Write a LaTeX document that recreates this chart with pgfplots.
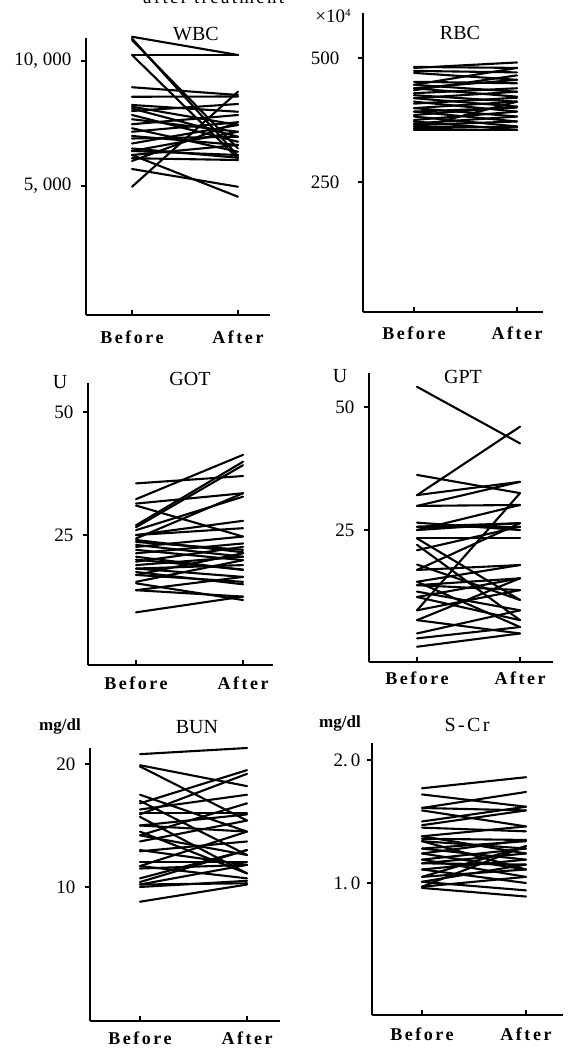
\documentclass[border=0pt]{standalone}
\usepackage{fontspec}
\setmainfont{Liberation Serif}
\usepackage{pgfplots}
\pgfplotsset{compat=1.18}
\newcommand\fs[1]{\fontsize{#1}{#1}\selectfont}
\newcommand\seg[2]{\addplot[black,line width=2.1pt,line cap=round] coordinates {(0,#1) (1,#2)};}
\pgfplotsset{
  panel/.style={
    scale only axis,
    anchor=south west,
    axis x line*=bottom,
    axis y line*=left,
    axis line style={-,line width=1.6pt,black},
    xtick={0,1},
    xticklabels={Before,After},
    xtick align=inside,
    ytick align=outside,
    major tick length=5pt,
    tick style={line width=1.4pt,black},
    scaled y ticks=false,
    clip=false,
    x tick label style={font={\fs{18}\bfseries\addfontfeature{LetterSpace=14}}},
    y tick label style={font={\fs{19}}},
  }
}
\begin{document}
\begin{tikzpicture}
% ---------------- WBC
\begin{axis}[panel, at={(86pt,-315pt)}, width=184pt, height=277pt,
  xmin=-0.434, xmax=1.302, ymin=-160, ymax=10920,
  ytick={5000,10000}, yticklabels={{5, 000},{10, 000}},
  x tick label style={yshift=-12pt}, y tick label style={xshift=-6pt}]
\seg{10970}{10240}
\seg{10900}{6200}
\seg{10840}{6500}
\seg{10240}{10240}
\seg{10240}{6100}
\seg{8950}{8640}
\seg{4970}{8773}
\seg{5680}{4970}
\seg{6240}{4570}
\seg{8570}{8580}
\seg{8240}{7970}
\seg{8170}{7440}
\seg{8000}{8280}
\seg{7840}{6770}
\seg{7670}{7170}
\seg{7470}{7840}
\seg{7310}{6370}
\seg{7170}{7550}
\seg{6900}{6970}
\seg{6700}{7440}
\seg{6500}{6130}
\seg{6400}{7170}
\seg{6240}{6640}
\seg{6110}{6040}
\seg{6000}{7550}
\seg{6400}{6240}
\seg{7000}{6640}
\seg{8100}{6970}
\end{axis}
% ---------------- RBC
\begin{axis}[panel, at={(363pt,-312pt)}, width=180pt, height=299pt,
  xmin=-0.495, xmax=1.252, ymin=-12, ymax=590.7,
  ytick={250,500}, yticklabels={250,500},
  y tick label style={xshift=-15pt},
  x tick label style={yshift=-11pt}]
\seg{482}{480}
\seg{480}{491}
\seg{474}{471}
\seg{470}{456}
\seg{452}{449}
\seg{446}{480}
\seg{446}{432}
\seg{439}{456}
\seg{439}{422}
\seg{435}{465}
\seg{429}{439}
\seg{425}{412}
\seg{419}{402}
\seg{419}{432}
\seg{412}{392}
\seg{408}{420}
\seg{399}{412}
\seg{399}{382}
\seg{392}{372}
\seg{392}{400}
\seg{385}{402}
\seg{382}{362}
\seg{375}{392}
\seg{372}{355}
\seg{368}{382}
\seg{365}{372}
\seg{362}{360}
\seg{358}{362}
\seg{358}{412}
\seg{355}{355}
\end{axis}
% ---------------- GOT
\begin{axis}[panel, at={(88pt,-665pt)}, width=185pt, height=282pt,
  xmin=-0.449, xmax=1.280, ymin=-1.4, ymax=55.9,
  ytick={25,50}, yticklabels={25,50},
  x tick label style={yshift=-8pt}, y tick label style={xshift=-6pt}]
\seg{35.5}{37.0}
\seg{32.3}{41.3}
\seg{31.4}{33.5}
\seg{31.0}{24.7}
\seg{27.0}{39.9}
\seg{26.6}{39.2}
\seg{26.0}{32.8}
\seg{25.0}{27.9}
\seg{25.0}{26.4}
\seg{24.3}{33.5}
\seg{23.6}{22.0}
\seg{22.6}{24.7}
\seg{22.0}{19.9}
\seg{21.3}{23.3}
\seg{20.6}{17.9}
\seg{19.6}{22.6}
\seg{18.9}{20.6}
\seg{18.2}{16.5}
\seg{18.2}{18.9}
\seg{16.9}{21.3}
\seg{16.9}{15.5}
\seg{15.5}{19.9}
\seg{15.2}{11.8}
\seg{13.8}{16.5}
\seg{13.8}{12.5}
\seg{9.3}{12.5}
\seg{17.5}{15.0}
\seg{20.0}{18.0}
\seg{23.0}{20.6}
\seg{24.0}{21.5}
\end{axis}
% ---------------- GPT
\begin{axis}[panel, at={(369pt,-662pt)}, width=184pt, height=289pt,
  xmin=-0.466, xmax=1.320, ymin=-1.8, ymax=56.9,
  ytick={25,50}, yticklabels={25,50},
  x tick label style={yshift=-6pt}, y tick label style={xshift=-6pt}]
\seg{54.1}{42.6}
\seg{32.1}{46.0}
\seg{36.2}{32.5}
\seg{32.1}{34.8}
\seg{29.9}{30.1}
\seg{29.9}{34.8}
\seg{25.7}{25.7}
\seg{25.7}{26.4}
\seg{25.0}{30.1}
\seg{25.0}{26.4}
\seg{23.3}{23.3}
\seg{23.3}{10.8}
\seg{20.9}{25.7}
\seg{16.9}{26.4}
\seg{16.9}{17.9}
\seg{14.5}{17.9}
\seg{14.5}{5.3}
\seg{13.8}{15.2}
\seg{13.8}{12.8}
\seg{12.5}{8.7}
\seg{11.4}{15.2}
\seg{11.4}{6.7}
\seg{8.7}{32.5}
\seg{8.7}{12.8}
\seg{6.7}{15.2}
\seg{6.7}{4.0}
\seg{4.0}{8.7}
\seg{3.0}{5.3}
\seg{1.3}{4.0}
\seg{22.0}{6.7}
\seg{18.0}{10.8}
\seg{26.5}{25.0}
\end{axis}
% ---------------- BUN
\begin{axis}[panel, at={(90pt,-1021pt)}, width=190pt, height=273pt,
  xmin=-0.467, xmax=1.308, ymin=-0.9, ymax=21.3,
  ytick={10,20}, yticklabels={10,20},
  x tick label style={yshift=-7pt}, y tick label style={xshift=-6pt}]
\seg{20.8}{21.3}
\seg{19.9}{18.2}
\seg{19.8}{15.4}
\seg{17.5}{14.5}
\seg{17.0}{12.6}
\seg{16.8}{19.5}
\seg{16.3}{17.5}
\seg{15.9}{19.2}
\seg{15.7}{11.1}
\seg{15.0}{15.9}
\seg{15.0}{14.5}
\seg{14.2}{16.8}
\seg{14.2}{12.6}
\seg{13.7}{15.4}
\seg{13.0}{11.8}
\seg{12.9}{13.7}
\seg{11.7}{14.5}
\seg{11.7}{10.7}
\seg{11.5}{11.8}
\seg{10.7}{13.0}
\seg{10.2}{11.8}
\seg{10.2}{10.3}
\seg{10.0}{10.5}
\seg{10.4}{13.0}
\seg{8.8}{10.2}
\seg{12.0}{12.0}
\seg{14.5}{11.1}
\seg{16.0}{16.0}
\end{axis}
% ---------------- S-Cr
\begin{axis}[panel, at={(372pt,-1015pt)}, width=191pt, height=272pt,
  xmin=-0.481, xmax=1.356, ymin=-0.073, ymax=2.138,
  ytick={1,2}, yticklabels={{1.\,0},{2.\,0}},
  y tick label style={xshift=-3pt},
  x tick label style={yshift=-9pt}]
\seg{1.77}{1.86}
\seg{1.72}{1.62}
\seg{1.61}{1.74}
\seg{1.61}{1.59}
\seg{1.59}{1.46}
\seg{1.50}{1.62}
\seg{1.47}{1.59}
\seg{1.45}{1.42}
\seg{1.38}{1.46}
\seg{1.38}{1.24}
\seg{1.36}{1.35}
\seg{1.34}{1.28}
\seg{1.34}{1.11}
\seg{1.28}{1.34}
\seg{1.28}{1.19}
\seg{1.24}{1.35}
\seg{1.19}{1.05}
\seg{1.19}{1.28}
\seg{1.16}{1.24}
\seg{1.16}{1.15}
\seg{1.11}{1.19}
\seg{1.11}{1.00}
\seg{1.05}{1.11}
\seg{1.05}{1.30}
\seg{1.01}{1.15}
\seg{1.01}{0.94}
\seg{0.97}{1.05}
\seg{0.96}{0.89}
\seg{0.97}{1.30}
\seg{1.24}{1.11}
\end{axis}
% ---------------- labels
\node[font=\fs{20}] at (196pt,-34pt) {WBC};
\node[font=\fs{20}] at (460pt,-33pt) {RBC};
\node[font=\fs{20}] at (190pt,-379pt) {GOT};
\node[font=\fs{20}] at (463pt,-377pt) {GPT};
\node[font=\fs{20}] at (197pt,-727pt) {BUN};
\node[font={\fs{20}\addfontfeature{LetterSpace=12}}] at (467pt,-725pt) {S-Cr};
\node[font=\fs{19}] at (333pt,-16pt) {×10\raisebox{6pt}{\fs{11}4}};
\node[font=\fs{20}] at (60pt,-382pt) {U};
\node[font=\fs{20}] at (340pt,-376pt) {U};
\node[font=\fs{17}\bfseries] at (60pt,-726pt) {mg/dl};
\node[font=\fs{17}\bfseries] at (340pt,-723pt) {mg/dl};
\node[font={\fs{19}\addfontfeature{LetterSpace=12}},anchor=base west,inner sep=0pt] at (143pt,-4pt) {after treatment};
\pgfresetboundingbox
\path[use as bounding box] (0,0) rectangle (572pt,-1048pt);
\end{tikzpicture}
\end{document}
